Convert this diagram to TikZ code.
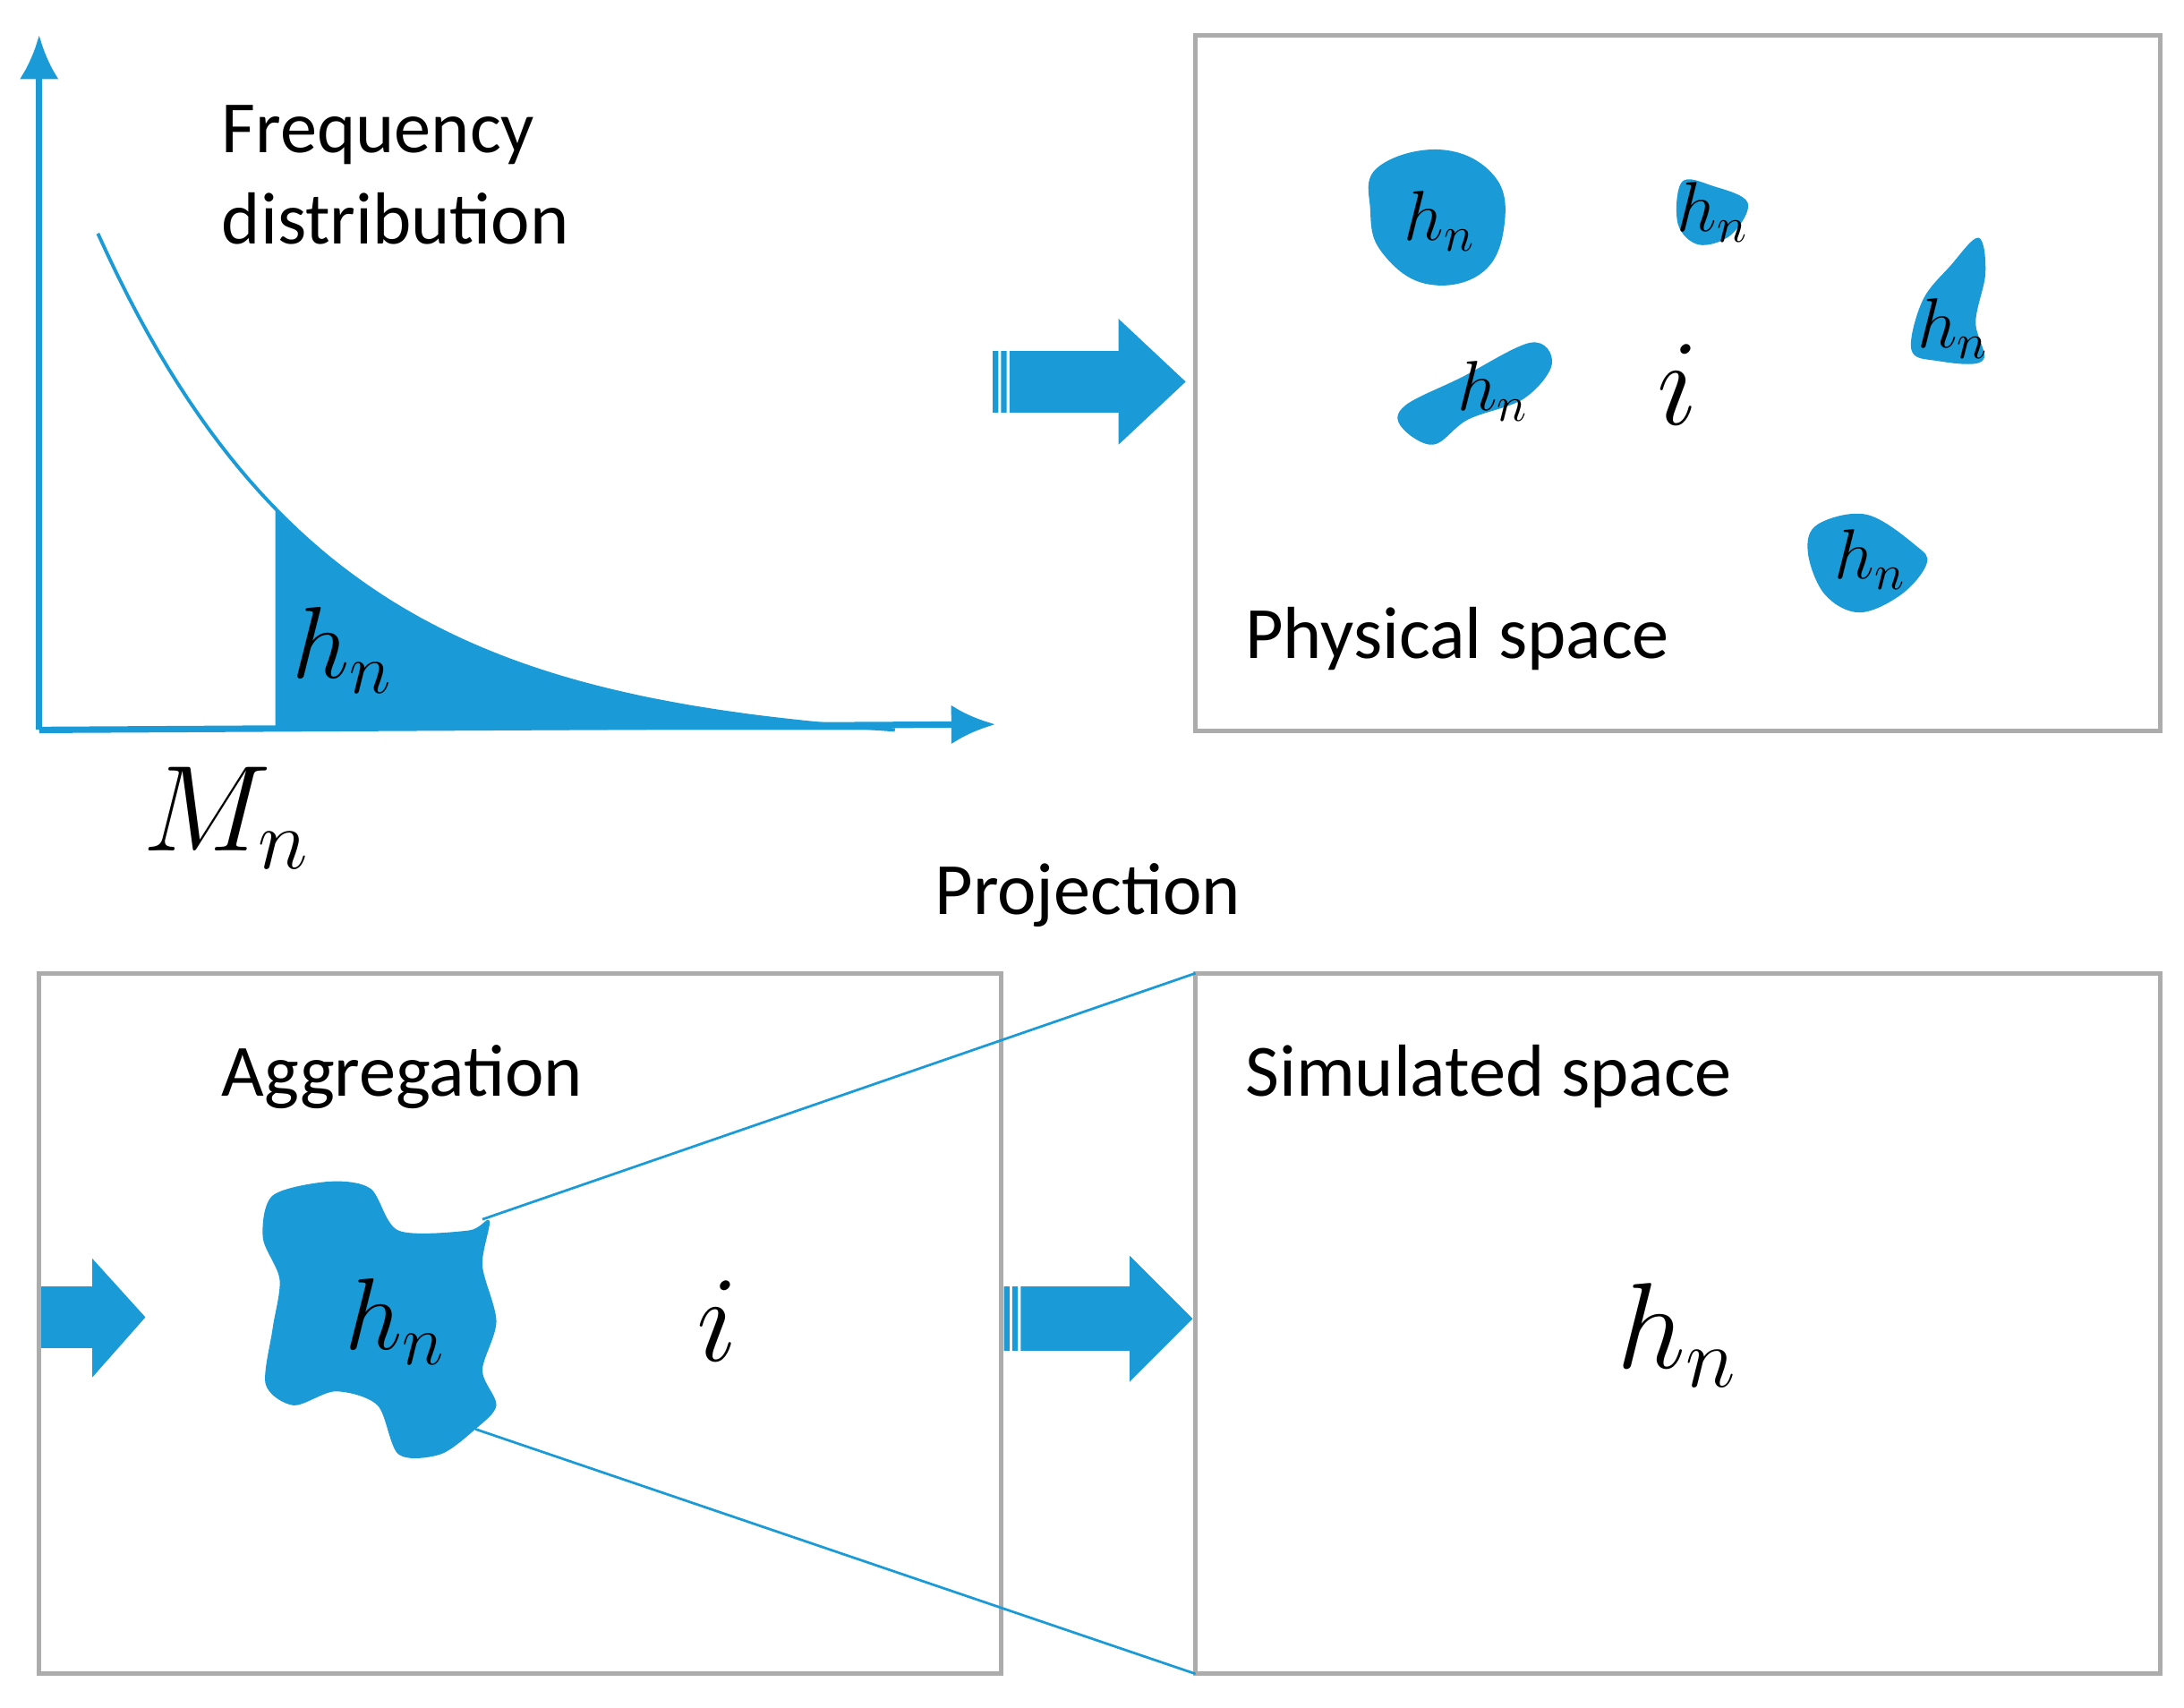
\documentclass[tikz,border=0pt]{standalone}
\usepackage{fontspec}
\setmainfont{Carlito}
\usetikzlibrary{arrows.meta}
\begin{document}
\begin{tikzpicture}[x=0.1mm,y=-0.1mm,
  box/.style={draw=gray!65,line width=0.9pt},
  lbl/.style={font=\fontsize{15}{18.5}\selectfont,anchor=west,inner sep=0pt},
  big/.style={font=\fontsize{20}{22}\selectfont},
  sm/.style={font=\fontsize{14}{16}\selectfont}]
\definecolor{blu}{HTML}{1A9BD7}
\useasboundingbox (0,0) rectangle (1562,1221);
\def\fy(#1){522-355*(exp(-(#1-70)/165)-0.0316)/0.9684}
% axes
\coordinate (o) at (28,522);
\coordinate (ytop) at (28,25);
\coordinate (xend) at (712,518);
\fill[blu] (197,522) -- plot[domain=197:640,samples=60] (\x,{522-355*(exp(-(\x-70)/165)-0.0316)/0.9684}) -- cycle;
\draw[blu,line width=0.7pt] plot[domain=70:640,samples=80] (\x,{522-355*(exp(-(\x-70)/165)-0.0316)/0.9684});
\draw[blu,line width=1.3pt,-{Latex[length=9pt,width=8pt]}] (o) -- (ytop);
\draw[blu,line width=1.3pt,-{Latex[length=9pt,width=8pt]}] (o) -- (xend);
\node[big] (hn0) at (245,465) {$h_n$};
\node[font=\fontsize{23}{25}\selectfont] (mn) at (162,585) {$M_n$};
\node[lbl,align=left] (fd) at (158,125) {Frequency\\distribution};
% fat arrows
\fill[blu] (710,251) rectangle (714,295) (716,251) rectangle (720,295)
  (722,251) -- (800,251) -- (800,228) -- (848,273) -- (800,318) -- (800,295) -- (722,295) -- cycle;
\fill[blu] (718,920) rectangle (722,966) (724,920) rectangle (728,966)
  (730,920) -- (808,920) -- (808,898) -- (853,943) -- (808,988) -- (808,966) -- (730,966) -- cycle;
\fill[blu] (28,920) -- (66,920) -- (66,900) -- (104,942) -- (66,985) -- (66,964) -- (28,964) -- cycle;
% boxes
\draw[box] (855,25) rectangle (1545,523);
\draw[box] (28,696) rectangle (716,1197);
\draw[box] (855,696) rectangle (1545,1197);
% physical space blobs
\fill[blu] plot[smooth cycle,tension=0.7] coordinates {(985,120)(1030,107)(1068,125)(1076,160)(1060,195)(1020,203)(988,180)(980,150)};
\node[sm] (b1) at (1030,158) {$h_n$};
\fill[blu] plot[smooth cycle,tension=0.6] coordinates {(1203,130)(1225,133)(1250,145)(1238,168)(1215,175)(1200,160)};
\node[sm] (b2) at (1225,152) {$h_n$};
\fill[blu] plot[smooth cycle,tension=0.6] coordinates {(1395,190)(1415,170)(1420,195)(1413,230)(1418,258)(1385,258)(1367,250)(1375,215)};
\node[sm] (b3) at (1397,235) {$h_n$};
\fill[blu] plot[smooth cycle,tension=0.6] coordinates {(1005,290)(1045,270)(1095,245)(1110,260)(1090,285)(1050,300)(1025,318)(1002,305)};
\node[sm] (b4) at (1068,280) {$h_n$};
\fill[blu] plot[smooth cycle,tension=0.6] coordinates {(1300,375)(1335,368)(1370,390)(1378,403)(1360,425)(1330,438)(1305,425)(1293,395)};
\node[sm] (b5) at (1338,400) {$h_n$};
\node[font=\fontsize{26}{28}\selectfont] (i1) at (1200,275) {$i$};
\node[lbl] (ps) at (890,457) {Physical space};
\node[lbl] (pr) at (668,640) {Projection};
\node[lbl] (ag) at (158,770) {Aggregation};
\node[lbl] (ss) at (890,770) {Simulated space};
% aggregate blob
\fill[blu] plot[smooth cycle,tension=0.5] coordinates {(195,855)(235,845)(265,850)(285,880)(335,880)(350,873)(345,905)(355,945)(345,980)(355,1005)(340,1022)(315,1040)(285,1040)(270,1005)(240,995)(210,1005)(190,990)(195,950)(200,915)(188,885)};
\node[big] (hn1) at (283,945) {$h_n$};
\node[font=\fontsize{26}{28}\selectfont] (i2) at (513,945) {$i$};
\node[font=\fontsize{23}{25}\selectfont] (hn2) at (1200,955) {$h_n$};
% projection lines
\coordinate (a1) at (345,872); \coordinate (a2) at (855,696);
\coordinate (c1) at (340,1022); \coordinate (c2) at (855,1197);
\draw[blu,line width=0.5pt] (a1) -- (a2);
\draw[blu,line width=0.5pt] (c1) -- (c2);
\end{tikzpicture}
\end{document}
